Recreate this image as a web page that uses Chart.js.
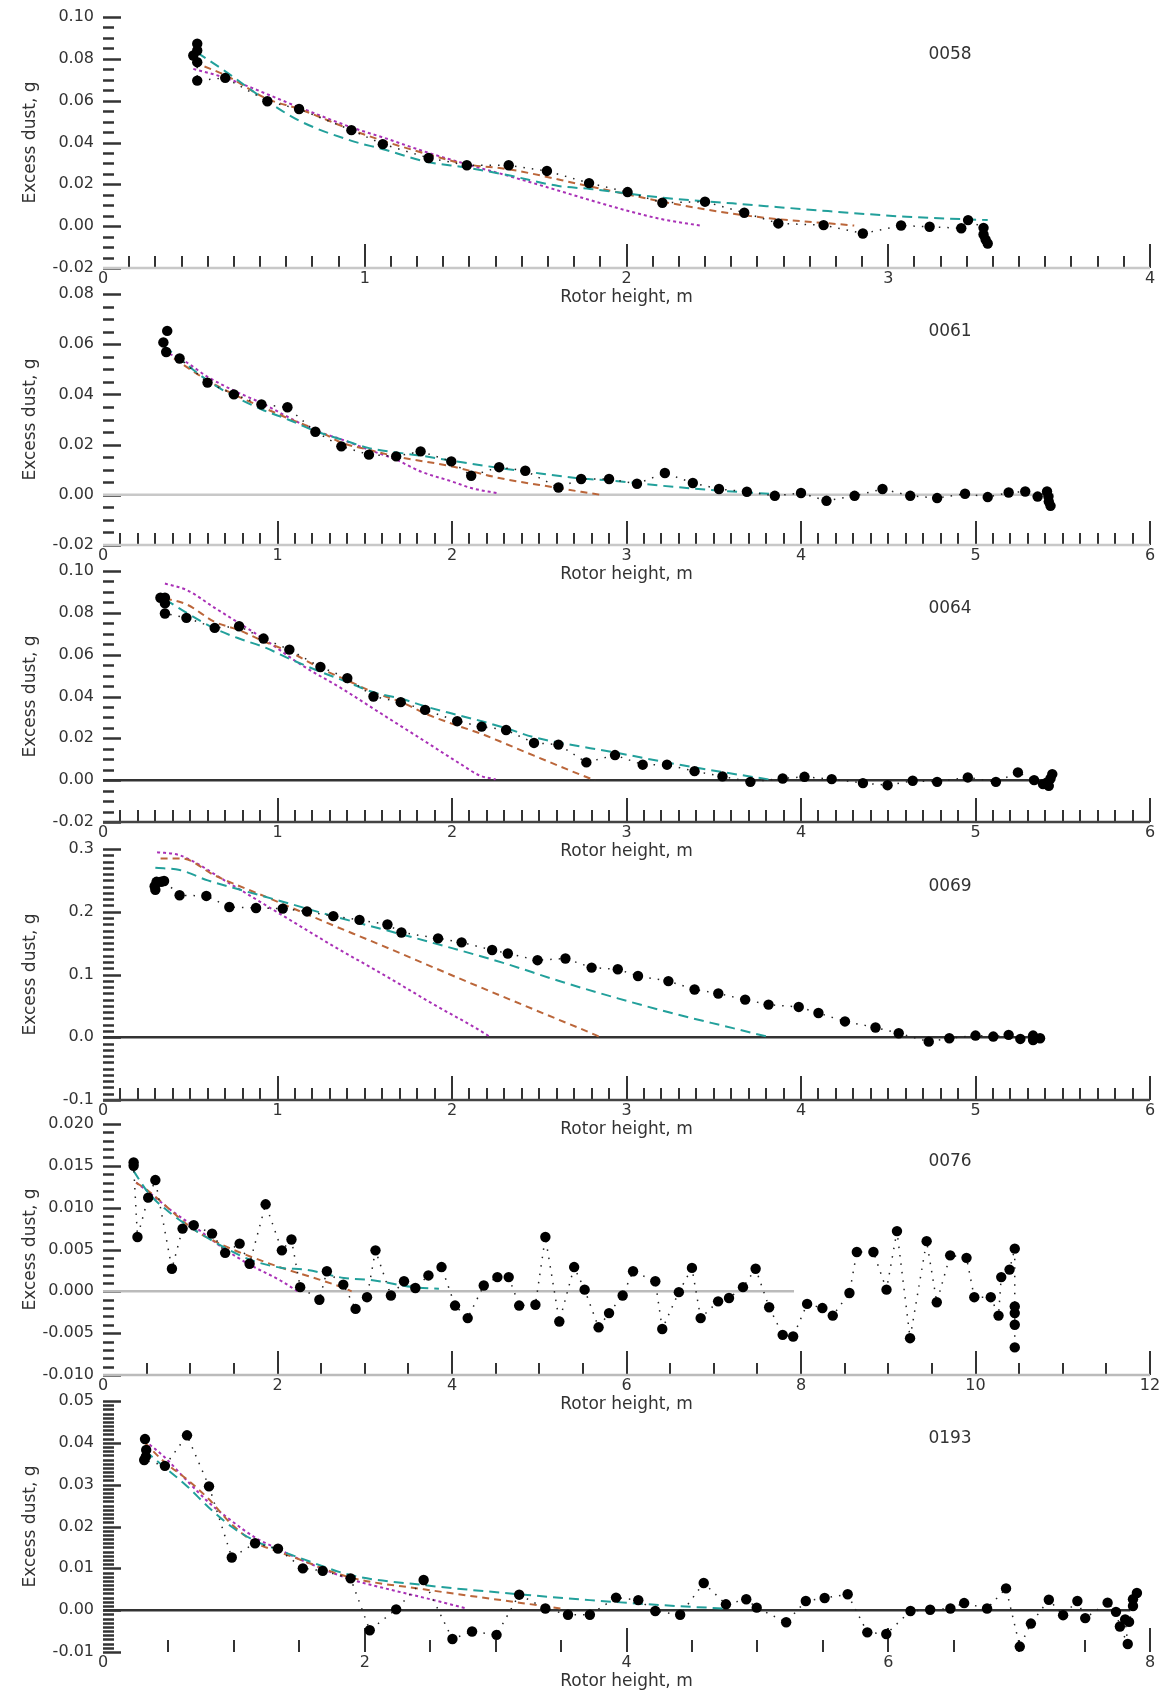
<!DOCTYPE html>
<html>
<head>
<meta charset="utf-8">
<title>Excess dust vs rotor height</title>
<script src="https://cdn.jsdelivr.net/npm/chart.js@4.4.0/dist/chart.umd.min.js"></script>
<style>
    html, body { margin: 0; padding: 0; background: #fff; }
    #wrap { position: relative; width: 1165px; height: 1694px; overflow: hidden; }
    #wrap canvas { position: absolute; left: 0; }
</style>
</head>
<body>
<div id="wrap"></div>
<script>
// run ids, one panel each
const runIds = ['0058', '0061', '0064', '0069', '0076', '0193'];

// axis ranges and labelled tick steps
const xRanges = [[0, 4], [0, 6], [0, 6], [0, 6], [0, 12], [0, 8]];
const yRanges = [[-0.02, 0.10], [-0.02, 0.08], [-0.02, 0.10], [-0.1, 0.3], [-0.010, 0.020], [-0.01, 0.05]];
const xLabelSteps = [1, 1, 1, 1, 2, 2];
const yLabelSteps = [0.02, 0.02, 0.02, 0.1, 0.005, 0.01];
const yDecimals = [2, 2, 2, 1, 3, 2];

// zero reference line runs from 0 to here (null = none)
const zeroLineEnds = [null, 5.45, 5.43, 5.38, 7.92, 7.85];

// measured excess dust [rotor height m, dust g]
const obs0058 = [[0.36, 0.0872], [0.36, 0.084], [0.345, 0.0816], [0.36, 0.0784], [0.36, 0.0696], [0.467, 0.0709], [0.628, 0.0597], [0.749, 0.056], [0.949, 0.0459], [1.069, 0.0392], [1.244, 0.0326], [1.39, 0.0291], [1.55, 0.0291], [1.696, 0.0264], [1.857, 0.0206], [2.004, 0.0163], [2.137, 0.0112], [2.30, 0.0117], [2.45, 0.0064], [2.58, 0.0013], [2.753, 0.0005], [2.903, -0.0035], [3.049, 0.0003], [3.158, -0.0003], [3.279, -0.001], [3.305, 0.0029], [3.364, -0.0008], [3.364, -0.004], [3.372, -0.0064], [3.38, -0.0083]];
const obs0061 = [[0.368, 0.0653], [0.346, 0.0607], [0.362, 0.0569], [0.439, 0.0543], [0.599, 0.0447], [0.75, 0.040], [0.908, 0.036], [1.057, 0.0349], [1.217, 0.0251], [1.366, 0.0193], [1.524, 0.016], [1.68, 0.0153], [1.82, 0.0173], [1.996, 0.0133], [2.11, 0.0076], [2.27, 0.011], [2.42, 0.0096], [2.61, 0.0029], [2.74, 0.0063], [2.90, 0.0063], [3.06, 0.0044], [3.22, 0.0087], [3.38, 0.0047], [3.53, 0.0023], [3.69, 0.0012], [3.85, -0.0004], [4.00, 0.0007], [4.146, -0.0024], [4.307, -0.0004], [4.467, 0.0023], [4.626, -0.0004], [4.78, -0.0013], [4.94, 0.0004], [5.07, -0.0009], [5.19, 0.0009], [5.285, 0.0013], [5.356, -0.0007], [5.41, 0.0013], [5.418, -0.0007], [5.42, -0.0027], [5.43, -0.0044]];
const obs0064 = [[0.329, 0.0872], [0.355, 0.0872], [0.355, 0.0845], [0.355, 0.0797], [0.478, 0.0776], [0.64, 0.0728], [0.78, 0.0736], [0.92, 0.0677], [1.068, 0.0624], [1.246, 0.0541], [1.40, 0.0488], [1.55, 0.040], [1.706, 0.0373], [1.846, 0.0336], [2.03, 0.0282], [2.17, 0.0256], [2.31, 0.024], [2.47, 0.0178], [2.61, 0.017], [2.77, 0.0085], [2.934, 0.012], [3.093, 0.0074], [3.232, 0.0074], [3.39, 0.0043], [3.55, 0.0018], [3.71, -0.0008], [3.895, 0.0008], [4.02, 0.0016], [4.176, 0.0005], [4.355, -0.0014], [4.496, -0.0024], [4.64, -0.0003], [4.78, -0.0008], [4.956, 0.0013], [5.117, -0.0008], [5.243, 0.0037], [5.336, 0.0], [5.387, -0.0019], [5.42, -0.0027], [5.41, -0.0011], [5.43, 0.0008], [5.44, 0.0029]];
const obs0069 = [[0.30, 0.235], [0.296, 0.2407], [0.307, 0.2477], [0.333, 0.2477], [0.35, 0.249], [0.439, 0.2263], [0.592, 0.2252], [0.724, 0.2075], [0.877, 0.206], [1.03, 0.205], [1.169, 0.2005], [1.32, 0.193], [1.47, 0.187], [1.63, 0.1796], [1.71, 0.167], [1.92, 0.1576], [2.055, 0.1512], [2.23, 0.139], [2.32, 0.1335], [2.49, 0.1228], [2.65, 0.1255], [2.80, 0.111], [2.95, 0.1083], [3.066, 0.0976], [3.24, 0.0895], [3.39, 0.0761], [3.526, 0.0697], [3.68, 0.060], [3.814, 0.052], [3.987, 0.0483], [4.10, 0.0386], [4.252, 0.0252], [4.427, 0.0155], [4.56, 0.0064], [4.732, -0.007], [4.85, -0.0016], [5.0, 0.0027], [5.102, 0.0011], [5.19, 0.0038], [5.257, -0.0027], [5.33, 0.0027], [5.33, -0.0043], [5.37, -0.0016]];
const obs0076 = [[0.351, 0.0154], [0.351, 0.015], [0.395, 0.0065], [0.518, 0.0112], [0.60, 0.0133], [0.79, 0.0027], [0.912, 0.0075], [1.04, 0.0079], [1.25, 0.0069], [1.40, 0.0046], [1.566, 0.0057], [1.68, 0.0033], [1.864, 0.0104], [2.05, 0.0049], [2.16, 0.0062], [2.26, 0.0005], [2.48, -0.001], [2.566, 0.0024], [2.754, 0.0008], [2.895, -0.0021], [3.026, -0.0007], [3.123, 0.0049], [3.30, -0.0005], [3.45, 0.0012], [3.58, 0.0004], [3.73, 0.0019], [3.88, 0.0029], [4.035, -0.0017], [4.18, -0.0032], [4.364, 0.0007], [4.52, 0.0017], [4.65, 0.0017], [4.77, -0.0017], [4.956, -0.0016], [5.07, 0.0065], [5.23, -0.0036], [5.40, 0.0029], [5.52, 0.0002], [5.68, -0.0043], [5.80, -0.0026], [5.956, -0.0005], [6.075, 0.0024], [6.33, 0.0012], [6.41, -0.0045], [6.60, -0.0001], [6.75, 0.0028], [6.85, -0.0032], [7.05, -0.0012], [7.175, -0.0008], [7.335, 0.0005], [7.48, 0.0027], [7.635, -0.0019], [7.79, -0.0052], [7.91, -0.0054], [8.07, -0.0015], [8.245, -0.002], [8.364, -0.0029], [8.555, -0.0002], [8.64, 0.0047], [8.83, 0.0047], [8.98, 0.0002], [9.10, 0.0072], [9.25, -0.0056], [9.44, 0.006], [9.556, -0.0013], [9.71, 0.0043], [9.897, 0.004], [9.986, -0.0007], [10.175, -0.0007], [10.264, -0.0029], [10.295, 0.0017], [10.39, 0.0026], [10.45, 0.0051], [10.45, -0.0018], [10.45, -0.0026], [10.45, -0.004], [10.45, -0.0067]];
const obs0193 = [[0.321, 0.0409], [0.33, 0.0383], [0.327, 0.0367], [0.315, 0.0359], [0.473, 0.0345], [0.642, 0.0418], [0.81, 0.0296], [0.984, 0.0126], [1.162, 0.016], [1.337, 0.0147], [1.527, 0.010], [1.679, 0.0094], [1.892, 0.0076], [2.038, -0.0048], [2.24, 0.0002], [2.45, 0.0072], [2.67, -0.0069], [2.82, -0.0051], [3.007, -0.0059], [3.18, 0.0037], [3.38, 0.0004], [3.553, -0.0011], [3.72, -0.0011], [3.92, 0.003], [4.09, 0.0024], [4.22, -0.0002], [4.41, -0.0011], [4.59, 0.0065], [4.76, 0.0014], [4.915, 0.0026], [4.995, 0.0006], [5.22, -0.0029], [5.37, 0.0022], [5.514, 0.0029], [5.69, 0.0038], [5.84, -0.0053], [5.985, -0.0057], [6.17, -0.0002], [6.32, 0.0001], [6.475, 0.0004], [6.58, 0.0017], [6.755, 0.0004], [6.90, 0.0052], [7.005, -0.0087], [7.09, -0.0032], [7.227, 0.0025], [7.336, -0.0012], [7.445, 0.0022], [7.505, -0.0019], [7.676, 0.0018], [7.74, -0.0004], [7.77, -0.0039], [7.83, -0.0081], [7.81, -0.0022], [7.84, -0.0028], [7.87, 0.001], [7.87, 0.0026], [7.90, 0.0041]];

// model curves: teal, brown, purple
const teal0058 = [[0.36, 0.083], [0.47, 0.0738], [0.628, 0.0597], [0.75, 0.0504], [0.95, 0.0408], [1.07, 0.0368], [1.24, 0.0307], [1.39, 0.028], [1.55, 0.0243], [1.74, 0.0192], [1.86, 0.0178], [2.14, 0.0136], [2.405, 0.0109], [2.77, 0.0072], [3.07, 0.0045], [3.38, 0.0029]];
const brown0058 = [[0.345, 0.0784], [0.47, 0.072], [0.628, 0.0608], [0.75, 0.056], [0.95, 0.046], [1.07, 0.0408], [1.24, 0.0344], [1.39, 0.0296], [1.55, 0.0272], [1.86, 0.019], [2.18, 0.0107], [2.475, 0.0048], [2.87, 0.0003]];
const purple0058 = [[0.345, 0.0752], [0.467, 0.0709], [0.75, 0.0568], [0.95, 0.0472], [1.07, 0.0424], [1.24, 0.0352], [1.39, 0.0296], [1.55, 0.024], [1.70, 0.0185], [1.86, 0.0125], [2.0, 0.0075], [2.14, 0.0032], [2.28, 0.0003]];

const teal0061 = [[0.35, 0.0593], [0.6, 0.0455], [0.75, 0.0393], [0.91, 0.034], [1.06, 0.030], [1.22, 0.0253], [1.37, 0.022], [1.52, 0.0187], [1.68, 0.0169], [1.82, 0.0156], [2.0, 0.0136], [2.27, 0.0107], [2.42, 0.0093], [2.74, 0.0065], [2.9, 0.0057], [3.28, 0.0031], [3.54, 0.0016], [3.82, 0.0004]];
const brown0061 = [[0.35, 0.057], [0.6, 0.0455], [0.75, 0.040], [0.91, 0.035], [1.06, 0.0305], [1.22, 0.026], [1.37, 0.0207], [1.52, 0.018], [1.68, 0.0153], [2.0, 0.0113], [2.27, 0.0067], [2.61, 0.0027], [2.74, 0.0012], [2.85, 0.0]];
const purple0061 = [[0.35, 0.057], [0.45, 0.054], [0.6, 0.047], [0.75, 0.0415], [0.91, 0.0365], [1.06, 0.031], [1.22, 0.0255], [1.37, 0.022], [1.52, 0.018], [1.68, 0.014], [1.82, 0.0093], [2.0, 0.0053], [2.11, 0.0027], [2.27, 0.0005]];

const teal0064 = [[0.355, 0.0865], [0.48, 0.080], [0.64, 0.0725], [0.78, 0.0677], [0.92, 0.0637], [1.07, 0.058], [1.25, 0.0517], [1.4, 0.0469], [1.55, 0.042], [1.71, 0.0389], [1.85, 0.0352], [2.03, 0.0312], [2.17, 0.0282], [2.31, 0.0248], [2.47, 0.0205], [2.61, 0.018], [2.93, 0.0133], [3.23, 0.0085], [3.54, 0.004], [3.82, 0.0003]];
const brown0064 = [[0.355, 0.087], [0.48, 0.084], [0.64, 0.0757], [0.78, 0.0717], [0.92, 0.0664], [1.07, 0.0613], [1.25, 0.0533], [1.4, 0.0477], [1.55, 0.042], [1.71, 0.0373], [1.85, 0.0317], [2.03, 0.0261], [2.17, 0.0221], [2.31, 0.0173], [2.47, 0.0117], [2.61, 0.0069], [2.77, 0.0015], [2.82, 0.0]];
const purple0064 = [[0.355, 0.094], [0.48, 0.0909], [0.64, 0.0824], [0.94, 0.0665], [1.12, 0.056], [1.38, 0.0432], [1.6, 0.0315], [1.82, 0.0199], [2.04, 0.0082], [2.16, 0.0022], [2.25, 0.0004]];

const teal0069 = [[0.3, 0.270], [0.44, 0.2665], [0.6, 0.25], [0.8, 0.234], [1.03, 0.216], [1.32, 0.193], [1.63, 0.17], [2.0, 0.142], [2.3, 0.118], [2.61, 0.09], [2.95, 0.062], [3.28, 0.037], [3.61, 0.0145], [3.82, 0.0]];
const brown0069 = [[0.33, 0.285], [0.45, 0.285], [0.64, 0.258], [0.94, 0.223], [1.27, 0.184], [1.6, 0.146], [2.04, 0.094], [2.48, 0.043], [2.81, 0.005], [2.85, 0.0]];
const purple0069 = [[0.31, 0.295], [0.44, 0.29], [0.72, 0.246], [1.0, 0.199], [1.34, 0.142], [1.6, 0.101], [1.885, 0.054], [2.21, 0.002], [2.22, 0.0]];

const teal0076 = [[0.35, 0.0144], [0.518, 0.0118], [0.79, 0.0092], [1.04, 0.0074], [1.4, 0.0052], [1.68, 0.0038], [2.05, 0.0028], [2.32, 0.0026], [2.76, 0.0016], [3.11, 0.0013], [3.55, 0.0005], [3.85, 0.0003]];
const brown0076 = [[0.38, 0.013], [0.52, 0.012], [1.04, 0.0074], [1.4, 0.0054], [1.68, 0.0042], [2.05, 0.0028], [2.48, 0.0014], [2.76, 0.0004], [2.85, 0.0]];
const purple0076 = [[0.38, 0.013], [0.52, 0.0119], [0.79, 0.0096], [1.04, 0.0078], [1.4, 0.005], [1.68, 0.0032], [2.05, 0.0012], [2.2, 0.0002], [2.23, 0.0]];

const teal0193 = [[0.32, 0.0381], [0.473, 0.0341], [0.64, 0.0297], [0.81, 0.0245], [0.98, 0.020], [1.16, 0.0166], [1.34, 0.0144], [1.53, 0.0122], [1.89, 0.0084], [2.45, 0.006], [3.18, 0.0038], [3.72, 0.0024], [4.37, 0.001], [4.75, 0.0004]];
const brown0193 = [[0.32, 0.040], [0.473, 0.0353], [0.64, 0.0313], [0.81, 0.0265], [0.98, 0.0206], [1.16, 0.0162], [1.34, 0.014], [1.53, 0.0118], [1.89, 0.0078], [2.45, 0.005], [3.18, 0.0018], [3.52, 0.0003]];
const purple0193 = [[0.32, 0.0405], [0.473, 0.0365], [0.64, 0.031], [0.81, 0.0257], [0.98, 0.0214], [1.16, 0.0174], [1.34, 0.0146], [1.53, 0.0118], [1.89, 0.0074], [2.13, 0.0054], [2.45, 0.003], [2.78, 0.0004]];

const observed = [obs0058, obs0061, obs0064, obs0069, obs0076, obs0193];
const tealFits = [teal0058, teal0061, teal0064, teal0069, teal0076, teal0193];
const brownFits = [brown0058, brown0061, brown0064, brown0069, brown0076, brown0193];
const purpleFits = [purple0058, purple0061, purple0064, purple0069, purple0076, purple0193];

// layout / look
const plotTops = [17, 294, 571, 849, 1124, 1401];
const plotHeight = 251;
const padTop = 20;
const xAxisHeight = 40;
const xMinorSteps = [0.1, 0.1, 0.1, 0.1, 0.5, 0.5];
const yMinorSteps = [0.005, 0.005, 0.005, 0.01, 0.001, 0.001];
const axisLineColors = ['#c8c8c8', '#c8c8c8', '#444', '#444', '#bbb', null];
const zeroLineColors = [null, '#c8c8c8', '#333', '#333', '#bbb', '#333'];

Chart.defaults.font.family = "'DejaVu Sans', sans-serif";
Chart.defaults.font.size = 16;
Chart.defaults.color = '#333';

const toPoints = arr => arr.map(p => ({ x: p[0], y: p[1] }));

const isMultiple = (v, step) => Math.abs(v / step - Math.round(v / step)) < 1e-6;

// short tick marks drawn inward from the axes, plus the bottom axis line
const axisMarks = {
    id: 'axisMarks',
    beforeDatasetsDraw(chart, args, opts) {
        const { ctx, chartArea } = chart;
        const xs = chart.scales.x;
        const ys = chart.scales.y;
        ctx.save();
        ctx.strokeStyle = '#333';

        ctx.lineWidth = 2.5;
        const ny = Math.round((ys.max - ys.min) / opts.yMinor);
        for (let i = 0; i <= ny; i++) {
            const v = ys.min + i * opts.yMinor;
            const py = Math.round(ys.getPixelForValue(v)) + 0.5;
            const len = isMultiple(v, opts.yMajor) ? 18 : 11;
            ctx.beginPath();
            ctx.moveTo(chartArea.left, py);
            ctx.lineTo(chartArea.left + len, py);
            ctx.stroke();
        }

        ctx.lineWidth = 2;
        const nx = Math.round((xs.max - xs.min) / opts.xMinor);
        for (let i = 1; i <= nx; i++) {
            const v = xs.min + i * opts.xMinor;
            const px = Math.round(xs.getPixelForValue(v));
            const len = isMultiple(v, opts.xMajor) ? 24 : 12;
            ctx.beginPath();
            ctx.moveTo(px, chartArea.bottom);
            ctx.lineTo(px, chartArea.bottom - len);
            ctx.stroke();
        }

        if (opts.axisColor) {
            ctx.strokeStyle = opts.axisColor;
            ctx.lineWidth = 2.5;
            ctx.beginPath();
            ctx.moveTo(chartArea.left, chartArea.bottom);
            ctx.lineTo(chartArea.right, chartArea.bottom);
            ctx.stroke();
        }
        ctx.restore();
    }
};

// run id written inside the plot
const runLabel = {
    id: 'runLabel',
    afterDatasetsDraw(chart, args, opts) {
        const { ctx, chartArea } = chart;
        ctx.save();
        ctx.font = "17px 'DejaVu Sans', sans-serif";
        ctx.fillStyle = '#333';
        ctx.textAlign = 'center';
        ctx.textBaseline = 'middle';
        ctx.fillText(opts.text, chartArea.left + 0.809 * (chartArea.right - chartArea.left), chartArea.top + 38);
        ctx.restore();
    }
};

const wrap = document.getElementById('wrap');

runIds.forEach((id, i) => {
    const canvas = document.createElement('canvas');
    canvas.width = 1165;
    canvas.height = padTop + plotHeight + xAxisHeight;
    canvas.style.top = (plotTops[i] - padTop) + 'px';
    wrap.appendChild(canvas);

    const datasets = [
        {
            label: 'Measured ' + id,
            data: toPoints(observed[i]),
            showLine: true,
            borderColor: '#222',
            borderWidth: 1.5,
            borderDash: [1.5, 7],
            pointRadius: 5.2,
            pointBackgroundColor: '#000',
            pointBorderWidth: 0
        },
        {
            label: 'Model A',
            data: toPoints(tealFits[i]),
            showLine: true,
            borderColor: '#22a09b',
            borderWidth: 2,
            borderDash: [10, 6],
            pointRadius: 0,
            cubicInterpolationMode: 'monotone'
        },
        {
            label: 'Model B',
            data: toPoints(brownFits[i]),
            showLine: true,
            borderColor: '#bb663a',
            borderWidth: 2,
            borderDash: [7, 5],
            pointRadius: 0,
            cubicInterpolationMode: 'monotone'
        },
        {
            label: 'Model C',
            data: toPoints(purpleFits[i]),
            showLine: true,
            borderColor: '#a930b6',
            borderWidth: 2,
            borderDash: [3, 3],
            pointRadius: 0,
            cubicInterpolationMode: 'monotone'
        }
    ];

    if (zeroLineEnds[i] !== null) {
        datasets.push({
            label: 'zero',
            data: [{ x: 0, y: 0 }, { x: zeroLineEnds[i], y: 0 }],
            showLine: true,
            borderColor: zeroLineColors[i],
            borderWidth: 2.5,
            pointRadius: 0
        });
    }

    new Chart(canvas.getContext('2d'), {
        type: 'scatter',
        data: { datasets: datasets },
        options: {
            responsive: false,
            animation: false,
            events: [],
            layout: { padding: { top: padTop, right: 15, left: 0, bottom: 0 } },
            scales: {
                x: {
                    type: 'linear',
                    min: xRanges[i][0],
                    max: xRanges[i][1],
                    grid: { display: false, drawTicks: false },
                    border: { display: false },
                    ticks: {
                        stepSize: xLabelSteps[i],
                        padding: 1,
                        maxRotation: 0,
                        autoSkip: false,
                        callback: v => String(v)
                    },
                    title: {
                        display: true,
                        text: 'Rotor height, m',
                        font: { size: 17 },
                        padding: { top: 0, bottom: 0 }
                    },
                    afterFit: scale => { scale.height = xAxisHeight; }
                },
                y: {
                    type: 'linear',
                    min: yRanges[i][0],
                    max: yRanges[i][1],
                    grid: { display: false, drawTicks: false },
                    border: { display: false },
                    ticks: {
                        stepSize: yLabelSteps[i],
                        padding: 9,
                        autoSkip: false,
                        callback: v => Number(v).toFixed(yDecimals[i])
                    },
                    title: {
                        display: true,
                        text: 'Excess dust, g',
                        font: { size: 17 },
                        padding: { top: 20, bottom: 0 }
                    },
                    afterFit: scale => { scale.width = 103; }
                }
            },
            plugins: {
                legend: { display: false },
                tooltip: { enabled: false },
                axisMarks: {
                    xMinor: xMinorSteps[i],
                    xMajor: xLabelSteps[i],
                    yMinor: yMinorSteps[i],
                    yMajor: yLabelSteps[i],
                    axisColor: axisLineColors[i]
                },
                runLabel: { text: id }
            }
        },
        plugins: [axisMarks, runLabel]
    });
});
</script>
</body>
</html>
